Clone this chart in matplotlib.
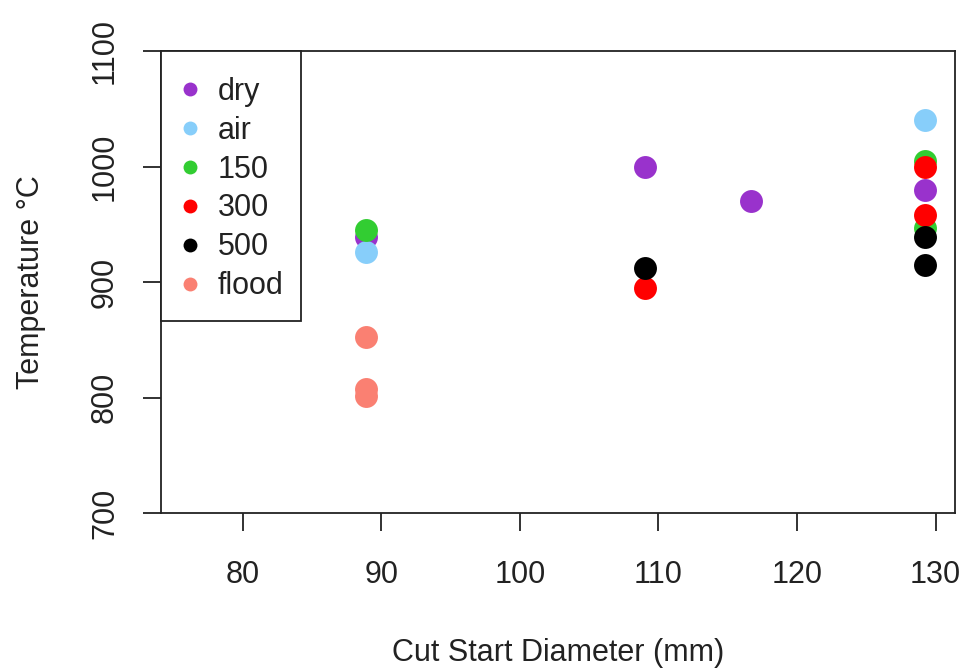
import matplotlib
matplotlib.use("Agg")
import matplotlib.pyplot as plt
from matplotlib.lines import Line2D
from matplotlib.patches import Rectangle

plt.rcParams['font.family'] = ['Liberation Sans', 'DejaVu Sans']

# readings per coolant condition: (diameter mm, temperature C)
groups = ["dry", "air", "150", "300", "500", "flood"]
colors = ["darkorchid", "lightskyblue", "limegreen", "red", "black", "salmon"]

dry_x = [88.9, 109.0, 116.7, 129.2]
dry_y = [939, 1000, 970, 980]
air_x = [88.9, 129.2]
air_y = [926, 1040]
c150_x = [88.9, 129.2, 129.2]
c150_y = [945, 1005, 947]
c300_x = [109.0, 129.2, 129.2]
c300_y = [895, 1000, 958]
c500_x = [109.0, 129.2, 129.2]
c500_y = [912, 939, 915]
flood_x = [88.9, 88.9, 88.9]
flood_y = [852, 807, 801]

xs = [dry_x, air_x, c150_x, c300_x, c500_x, flood_x]
ys = [dry_y, air_y, c150_y, c300_y, c500_y, flood_y]

xticks = [80, 90, 100, 110, 120, 130]
yticks = [700, 800, 900, 1000, 1100]

fig = plt.figure(figsize=(9.64, 6.70), dpi=100)
ax = fig.add_axes([161/964, 157/670, 794/964, 462/670])

for x, y, c in zip(xs, ys, colors):
    ax.plot(x, y, 'o', color=c, markersize=16.5, markeredgewidth=0, linestyle='none')

ax.set_xlim(74.1, 131.4)
ax.set_ylim(700, 1100)
ax.set_xticks(xticks)
ax.set_yticks(yticks)
ax.set_yticklabels([str(t) for t in yticks], rotation=90, va='center')

for s in ax.spines.values():
    s.set_linewidth(1.3)
    s.set_color('#222222')
ax.tick_params(length=13, width=1.3, color='#222222', labelsize=22, labelcolor='#222222')
ax.tick_params(axis='x', pad=20.5)
ax.tick_params(axis='y', pad=16.5)

ax.set_xlabel('Cut Start Diameter (mm)', fontsize=22, color='#222222', labelpad=35)
ax.set_ylabel('Temperature °C', fontsize=22, color='#222222', labelpad=31.5)

# legend box drawn by hand so its size matches the R layout
box = Rectangle((0, 1 - 270/462), 140/794, 270/462, transform=ax.transAxes,
                facecolor='white', edgecolor='#222222', linewidth=1.3, zorder=4, clip_on=False)
ax.add_patch(box)

handles = [Line2D([], [], marker='o', color=c, linestyle='none', markersize=10, markeredgewidth=0)
           for c in colors]
leg = ax.legend(handles, groups, loc='upper left', bbox_to_anchor=(0, 1 - 10/462), borderaxespad=0,
                fontsize=22, frameon=False, handlelength=0.85, handletextpad=0.49,
                labelspacing=0.29, borderpad=0.52)
leg.set_zorder(5)
for t in leg.get_texts():
    t.set_color('#222222')

fig.savefig('out.png', dpi=100)
